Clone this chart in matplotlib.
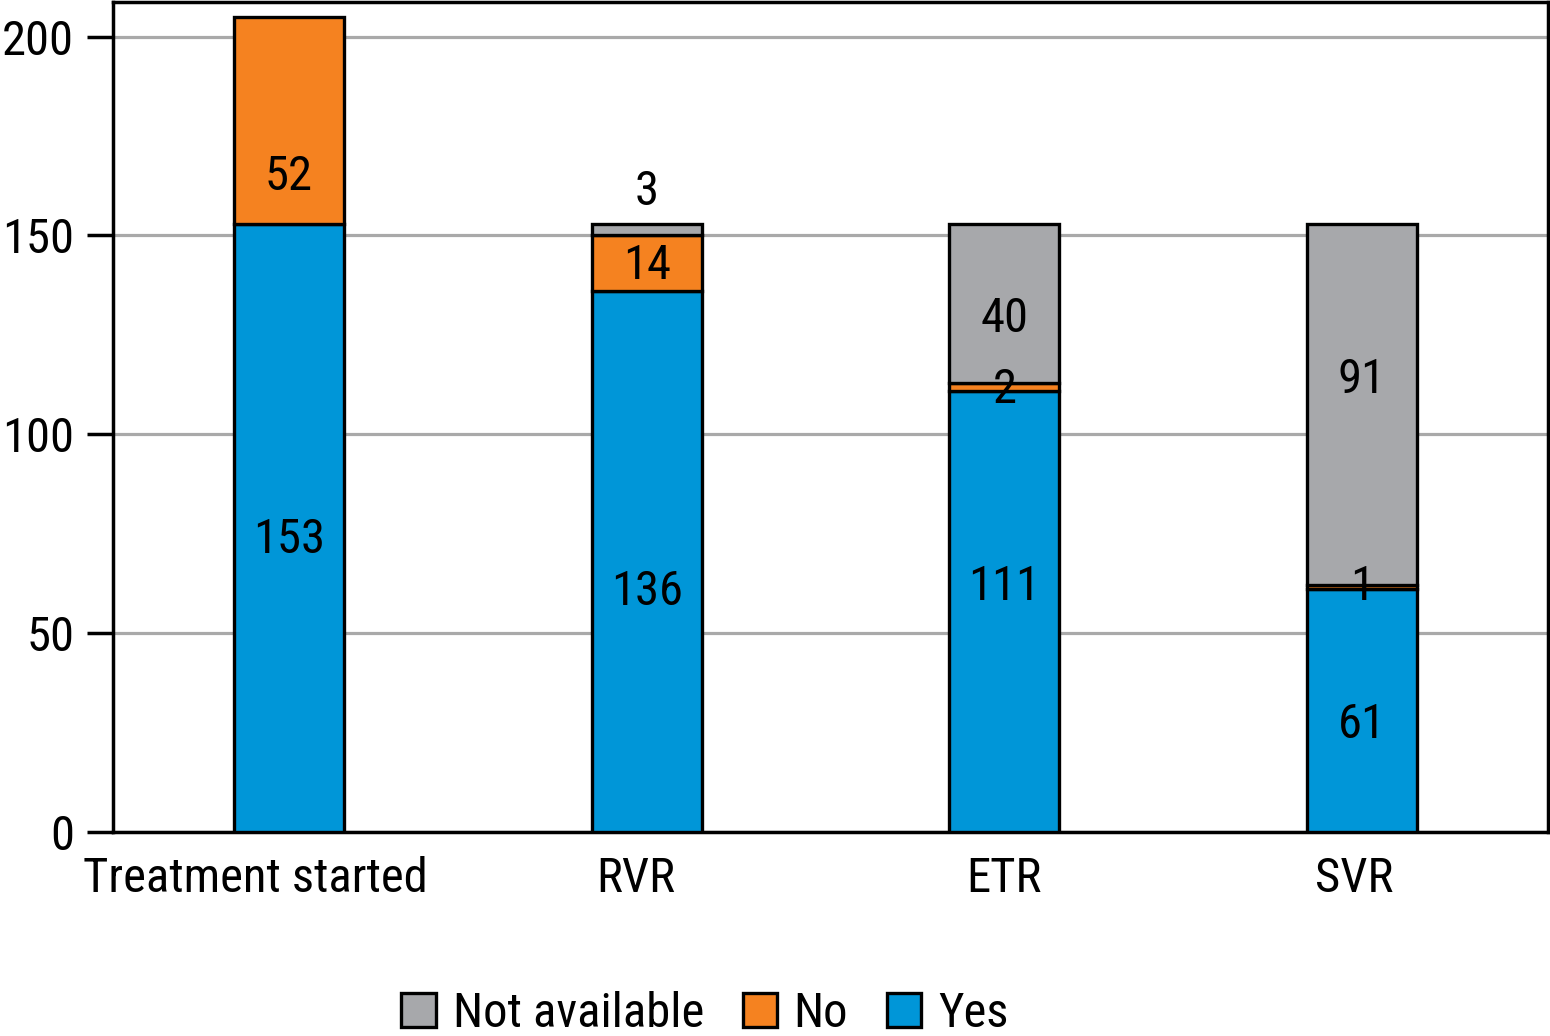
import matplotlib
matplotlib.use("Agg")
import matplotlib.pyplot as plt
import matplotlib.transforms as mtransforms
import numpy as np

categories = ["Treatment started", "RVR", "ETR", "SVR"]
yes_vals = [153, 136, 111, 61]
no_vals = [52, 14, 2, 1]
na_vals = [0, 3, 40, 91]

c_yes = "#0096D8"
c_no = "#F58220"
c_na = "#A7A8AB"

plt.rcParams['font.family'] = ['Roboto Condensed', 'Liberation Sans Narrow', 'Roboto', 'DejaVu Sans']
plt.rcParams['font.weight'] = 'normal'

fig = plt.figure(figsize=(15.5, 10.36), dpi=100)
ax = fig.add_axes([0.0729, 0.197, 0.9258, 0.801])

x = np.arange(len(categories))
w = 0.307
yes = np.array(yes_vals)
no = np.array(no_vals)
na = np.array(na_vals)

ax.bar(x, yes, w, color=c_yes, edgecolor="black", linewidth=2.4, zorder=3, label="Yes")
ax.bar(x, no, w, bottom=yes, color=c_no, edgecolor="black", linewidth=2.4, zorder=3, label="No")
na_mask = na > 0
ax.bar(x[na_mask], na[na_mask], w, bottom=(yes + no)[na_mask], color=c_na, edgecolor="black",
       linewidth=2.4, zorder=3, label="Not available")

fs = 35
# label nudges in pixels (positive = down), to mimic the reference placement
yes_dy = [12, 30, -24, 14]
no_dy = [57, 3, 3, 0]
na_dy = [0, 0, 16, -24]


def put(xv, yv, s, dy_px, va="center"):
    ax.annotate(s, (xv, yv), xytext=(0, -dy_px), textcoords="offset pixels",
                ha="center", va=va, fontsize=fs, zorder=5)


for i in range(len(x)):
    put(x[i], yes[i] / 2, str(yes[i]), yes_dy[i])
    put(x[i], yes[i] + no[i] / 2, str(no[i]), no_dy[i])
    if na[i] >= 5:
        put(x[i], yes[i] + no[i] + na[i] / 2, str(na[i]), na_dy[i])
    elif na[i] > 0:
        put(x[i], yes[i] + no[i] + na[i], str(na[i]), -9, va="bottom")

ax.set_xlim(-0.492, 3.52)
ax.set_ylim(0, 208.7)
ax.set_yticks([0, 50, 100, 150, 200])
ax.yaxis.grid(True, color="#A9A9A9", linewidth=2.3, zorder=0)
ax.set_axisbelow(True)
ax.set_xticks(x)
ax.set_xticklabels(categories)
ax.tick_params(axis="x", length=0, labelsize=fs, pad=17)
ax.tick_params(axis="y", direction="out", length=19, width=2.5, labelsize=fs, pad=9)
for s in ax.spines.values():
    s.set_linewidth(2.5)
    s.set_color("black")

xlab_dx = [-34, -11, 0, -8]
for lab, dx in zip(ax.get_xticklabels(), xlab_dx):
    lab.set_transform(lab.get_transform() + mtransforms.ScaledTranslation(dx / 100, 0, fig.dpi_scale_trans))

handles, labels = ax.get_legend_handles_labels()
order = [2, 1, 0]
leg = fig.legend([handles[i] for i in order], [labels[i] for i in order], loc="center",
                 bbox_to_anchor=(705 / 1550, 1 - 1014 / 1036), ncol=3, frameon=False,
                 fontsize=fs, handlelength=0.7, handleheight=0.7, handletextpad=0.35,
                 columnspacing=0.8)

fig.savefig("out.png", dpi=100)
